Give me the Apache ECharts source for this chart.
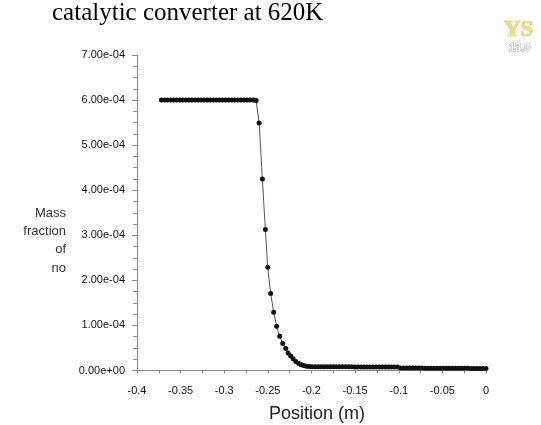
<!DOCTYPE html>
<html>
<head>
<meta charset="utf-8">
<script src="https://cdn.jsdelivr.net/npm/echarts@6/dist/echarts.min.js"></script>
<style>html,body{margin:0;padding:0;background:#fff;}#chart{width:541px;height:425px;}</style>
</head>
<body>
<div id="chart"></div>
<script>
var titleText = 'catalytic converter at 620K';
var xAxisName = 'Position (m)';
var yAxisName = 'Mass\nfraction\nof\nno';
var xTicks = [-0.4, -0.35, -0.3, -0.25, -0.2, -0.15, -0.1, -0.05, 0];
var yTicks = [0, 1e-4, 2e-4, 3e-4, 4e-4, 5e-4, 6e-4, 7e-4];

var position = [
  -0.372, -0.3685, -0.365, -0.3615, -0.358, -0.3545, -0.351, -0.3475, -0.344, -0.3405,
  -0.337, -0.3335, -0.330, -0.3265, -0.323, -0.3195, -0.316, -0.3125, -0.309, -0.3055,
  -0.302, -0.2985, -0.295, -0.2915, -0.288, -0.2845, -0.281, -0.2775, -0.274, -0.2705,
  -0.267, -0.2635,
  -0.2600, -0.2563, -0.2529, -0.2502, -0.2468, -0.2433, -0.2399, -0.2364, -0.2330, -0.2295,
  -0.2268, -0.2238, -0.2211, -0.2180, -0.2149, -0.2118, -0.2088, -0.2057, -0.2026,
  -0.1995, -0.196, -0.1925, -0.189, -0.1855, -0.182, -0.1785, -0.175, -0.1715, -0.168,
  -0.1645, -0.161, -0.1575, -0.154, -0.1505, -0.147, -0.1435, -0.140, -0.1365, -0.133,
  -0.1295, -0.126, -0.1225, -0.119, -0.1155, -0.112, -0.1085, -0.105, -0.1015,
  -0.098, -0.0945, -0.091, -0.0875, -0.084, -0.0805, -0.077, -0.0735, -0.070, -0.0665,
  -0.063, -0.0595, -0.056, -0.0525, -0.049, -0.0455, -0.042, -0.0385, -0.035, -0.0315,
  -0.028, -0.0245, -0.021, -0.0175, -0.014, -0.0105, -0.007, -0.0035, 0
];
var massFractionNo = [
  6.0e-4, 6.0e-4, 6.0e-4, 6.0e-4, 6.0e-4, 6.0e-4, 6.0e-4, 6.0e-4, 6.0e-4, 6.0e-4,
  6.0e-4, 6.0e-4, 6.0e-4, 6.0e-4, 6.0e-4, 6.0e-4, 6.0e-4, 6.0e-4, 6.0e-4, 6.0e-4,
  6.0e-4, 6.0e-4, 6.0e-4, 6.0e-4, 6.0e-4, 6.0e-4, 6.0e-4, 6.0e-4, 6.0e-4, 6.0e-4,
  6.0e-4, 5.99e-4,
  5.49e-4, 4.25e-4, 3.13e-4, 2.29e-4, 1.71e-4, 1.29e-4, 0.98e-4, 0.76e-4, 0.60e-4, 0.49e-4,
  0.39e-4, 0.32e-4, 0.26e-4, 0.20e-4, 0.16e-4, 0.13e-4, 0.11e-4, 0.095e-4, 0.088e-4,
  0.085e-4, 0.084e-4, 0.084e-4, 0.083e-4, 0.083e-4, 0.083e-4, 0.082e-4, 0.082e-4, 0.082e-4, 0.082e-4,
  0.081e-4, 0.081e-4, 0.081e-4, 0.081e-4, 0.080e-4, 0.080e-4, 0.080e-4, 0.080e-4, 0.079e-4, 0.079e-4,
  0.079e-4, 0.079e-4, 0.078e-4, 0.078e-4, 0.078e-4, 0.078e-4, 0.077e-4, 0.077e-4, 0.077e-4,
  0.055e-4, 0.055e-4, 0.054e-4, 0.054e-4, 0.054e-4, 0.053e-4, 0.053e-4, 0.053e-4, 0.052e-4, 0.052e-4,
  0.052e-4, 0.051e-4, 0.051e-4, 0.051e-4, 0.050e-4, 0.050e-4, 0.050e-4, 0.049e-4, 0.049e-4, 0.049e-4,
  0.048e-4, 0.048e-4, 0.048e-4, 0.047e-4, 0.047e-4, 0.047e-4, 0.046e-4, 0.046e-4, 0.046e-4
];

function fmtExp(v) {
  if (Math.abs(v) < 1e-12) return '0.00e+00';
  var s = v.toExponential(2);
  var parts = s.split('e');
  var exp = parseInt(parts[1], 10);
  var sign = exp < 0 ? '-' : '+';
  var e = Math.abs(exp);
  return parts[0] + 'e' + sign + (e < 10 ? '0' + e : '' + e);
}
function fmtX(v) {
  if (Math.abs(v) < 1e-9) return '0';
  return String(parseFloat(v.toFixed(2)));
}

var seriesData = position.map(function (p, i) { return [p, massFractionNo[i]]; });

var chart = echarts.init(document.getElementById('chart'), null, { renderer: 'canvas' });
chart.setOption({
  backgroundColor: '#ffffff',
  animation: false,
  grid: { left: 137, right: 55, top: 55, bottom: 54.5, containLabel: false, outerBoundsMode: 'none' },
  xAxis: {
    type: 'value',
    min: xTicks[0],
    max: xTicks[xTicks.length - 1],
    interval: 0.05,
    name: xAxisName,
    nameLocation: 'middle',
    nameGap: 44,
    nameTextStyle: { fontFamily: 'Liberation Sans', fontSize: 18, color: '#222', verticalAlign: 'middle', padding: [0, 0, 0, 11] },
    axisLine: { onZero: false, lineStyle: { color: '#8a8a8a', width: 1 } },
    axisTick: { show: true, length: 3, lineStyle: { color: '#8a8a8a' } },
    minorTick: { show: true, splitNumber: 2, length: 3, lineStyle: { color: '#8a8a8a' } },
    splitLine: { show: false },
    axisLabel: { formatter: fmtX, fontFamily: 'Liberation Sans', fontSize: 11, color: '#111', margin: 15 }
  },
  yAxis: {
    type: 'value',
    min: yTicks[0],
    max: yTicks[yTicks.length - 1],
    interval: 1e-4,
    axisLine: { show: true, onZero: false, lineStyle: { color: '#8a8a8a', width: 1 } },
    axisTick: { show: true, length: 5, lineStyle: { color: '#8a8a8a' } },
    minorTick: { show: true, splitNumber: 4, length: 4, lineStyle: { color: '#8a8a8a' } },
    splitLine: { show: false },
    axisLabel: { formatter: fmtExp, fontFamily: 'Liberation Sans', fontSize: 11, color: '#111', margin: 12 }
  },
  graphic: [
    {
      type: 'text', left: 52, top: 1,
      style: { text: titleText, font: '25px "Liberation Serif"', fill: '#000' }
    },
    {
      type: 'text', x: 66, y: 204,
      style: { text: yAxisName, font: '13px "Liberation Sans"', fill: '#333', textAlign: 'right', lineHeight: 18.3 }
    },
    {
      type: 'text', x: 504, y: 19,
      style: { text: 'YS', font: 'bold 23px "Liberation Serif"', fill: '#eadc86', stroke: '#c9b55a', lineWidth: 0.6 }
    },
    {
      type: 'text', x: 509, y: 42,
      style: { text: '13.0', font: 'bold 11px "Liberation Sans"', fill: '#ffffff', stroke: '#a0a0a0', lineWidth: 1 }
    }
  ],
  series: [{
    type: 'line',
    data: seriesData,
    symbol: 'circle',
    symbolSize: 5,
    showAllSymbol: true,
    lineStyle: { color: '#555555', width: 1 },
    itemStyle: { color: '#111111', borderWidth: 0 },
    emphasis: { disabled: true }
  }]
});
</script>
</body>
</html>
